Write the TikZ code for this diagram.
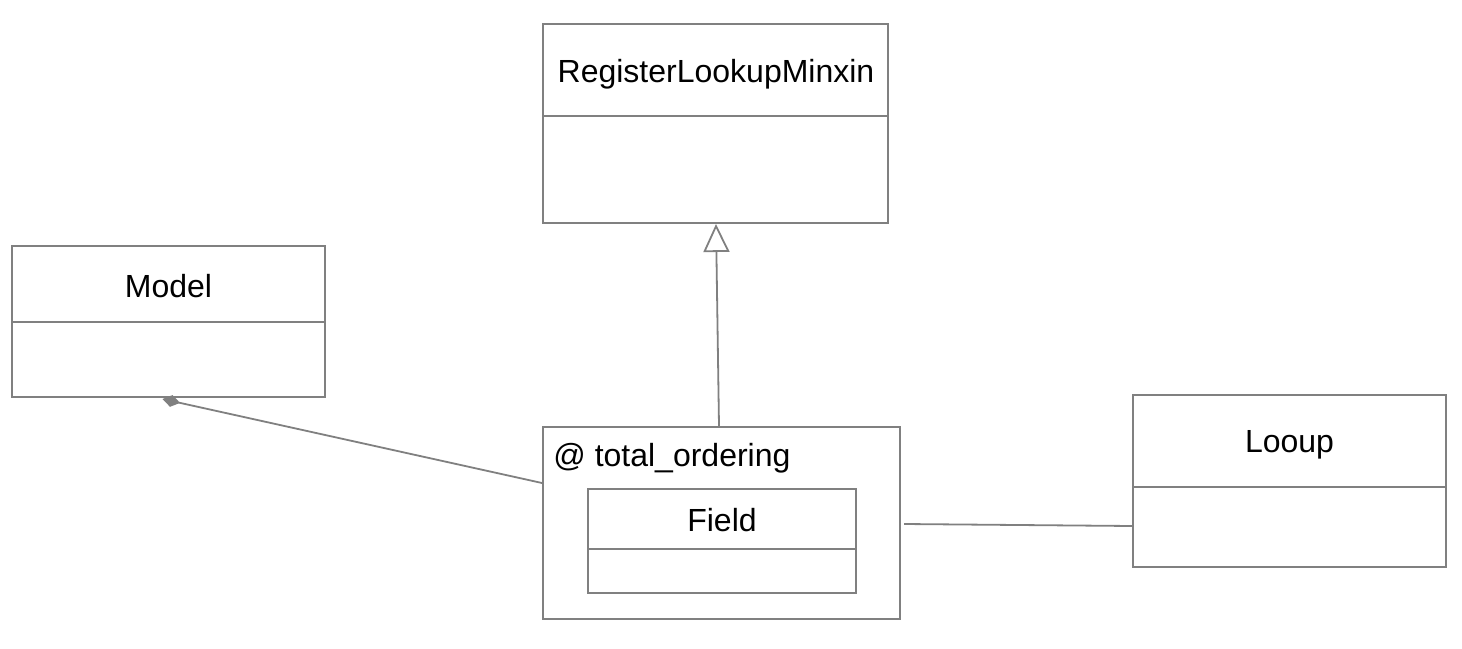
\documentclass[tikz,border=0pt]{standalone}
\usepackage{fontspec}
\setmainfont{Liberation Sans}
\usetikzlibrary{arrows.meta,calc}
\definecolor{linegray}{HTML}{808080}
\begin{document}
\begin{tikzpicture}[x=0.5pt,y=-0.5pt,
  umlbox/.style={draw=linegray, line width=1pt, minimum width=#1, inner sep=0pt, fill=none},
  lbl/.style={font=\fontsize{16pt}{19pt}\selectfont, inner sep=0pt, text=black, anchor=base},
  conn/.style={draw=linegray, line width=0.9pt}]
\useasboundingbox (0,0) rectangle (1462,648);
% RegisterLookupMinxin
\node[umlbox=172.5pt, minimum height=99.5pt] (reg) at (715.5,123.5) {};
\node[lbl] (regt) at (716,82) {RegisterLookupMinxin};
\draw[conn] (reg.west |- 0,116) -- (reg.east |- 0,116);
% Model
\node[umlbox=156.5pt, minimum height=75.5pt] (model) at (168.5,321.5) {};
\node[lbl] (modelt) at (168.5,297) {Model};
\draw[conn] (model.west |- 0,322) -- (model.east |- 0,322);
% total_ordering
\node[umlbox=178.5pt, minimum height=96pt] (total) at (721.5,523) {};
\node[lbl, anchor=base west] (totalt) at (553,466) {@ total\_ordering};
% Field
\node[umlbox=134pt, minimum height=52pt] (field) at (722,541) {};
\node[lbl] (fieldt) at (722,531) {Field};
\draw[conn] (field.west |- 0,549) -- (field.east |- 0,549);
% Looup
\node[umlbox=156.5pt, minimum height=86pt] (looup) at (1289.5,481) {};
\node[lbl] (looupt) at (1289.5,452) {Looup};
\draw[conn] (looup.west |- 0,487) -- (looup.east |- 0,487);
% connectors
\draw[conn, -{Triangle[open, length=14pt, width=13pt, line width=0.9pt]}]
  ($(total.north west)+(177,0)$) -- ($(reg.south west)+(174,0)$);
\draw[conn, -{Diamond[length=9pt, width=6pt, fill=linegray]}]
  ($(total.west)+(0,-40)$) -- ($(model.south)+(-6,1)$);
\draw[conn] ($(total.east)+(3,1)$) -- ($(looup.west)+(0,45)$);
\end{tikzpicture}
\end{document}
